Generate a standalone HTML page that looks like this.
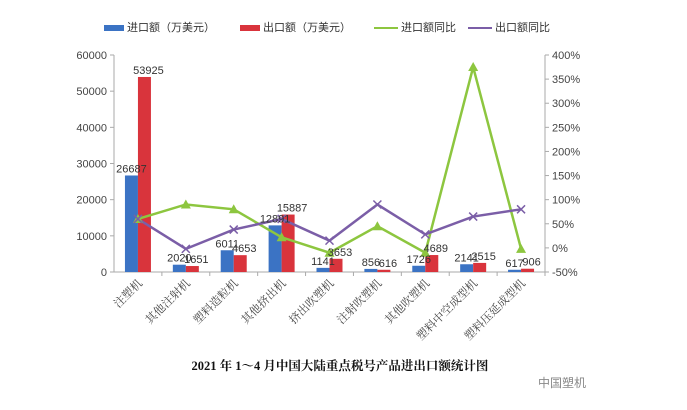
<!DOCTYPE html>
<html><head><meta charset="utf-8"><style>
body{margin:0;background:#fff;width:687px;height:405px;overflow:hidden;font-family:"Liberation Sans","Noto Sans CJK SC",sans-serif}
</style></head><body>
<svg id="chart" width="687" height="405" xmlns="http://www.w3.org/2000/svg" font-family="Liberation Sans, Noto Sans CJK SC, sans-serif">
<g font-size="11" fill="#333">
<rect x="104" y="25" width="20" height="6" fill="#3b73c4"/>
<text x="127" y="31">进口额（万美元）</text>
<rect x="240" y="25" width="20" height="6" fill="#d9343c"/>
<text x="263" y="31">出口额（万美元）</text>
<line x1="374" y1="28" x2="398" y2="28" stroke="#8dc63f" stroke-width="2"/>
<text x="401" y="31">进口额同比</text>
<line x1="468" y1="28" x2="492" y2="28" stroke="#7b5ea7" stroke-width="2"/>
<text x="495" y="31">出口额同比</text>
</g>
<g id="axes"></g>
<g id="marks"></g>
<text x="340" y="370" text-anchor="middle" font-size="12.5" font-weight="bold" fill="#111" font-family="Liberation Serif, Noto Serif CJK SC, serif">2021 年 1～4 月中国大陆重点税号产品进出口额统计图</text>
<text x="538" y="387" font-size="12" fill="#888">中国塑机</text>
</svg>
<script>
const categories=["注塑机","其他注射机","塑料造粒机","其他挤出机","挤出吹塑机","注射吹塑机","其他吹塑机","塑料中空成型机","塑料压延成型机"];
const importVals=[26687,2020,6011,12891,1141,856,1726,2141,617];
const exportVals=[53925,1651,4653,15887,3653,616,4689,2515,906];
const importYoY=[60,90,80,22,-10,45,-10,375,-2];
const exportYoY=[60,-2,38,60,15,90,28,65,80];
const leftTicks=[0,10000,20000,30000,40000,50000,60000];
const rightTicks=[-50,0,50,100,150,200,250,300,350,400];

const NS="http://www.w3.org/2000/svg";
const x0=114,x1=545,yTop=55,yBot=272;
const cw=(x1-x0)/categories.length;
const yL=v=>yBot-(v/60000)*(yBot-yTop);
const yR=v=>yBot-((v+50)/450)*(yBot-yTop);
const cx=i=>x0+cw*(i+0.5);
function mk(tag,attrs,parent){const e=document.createElementNS(NS,tag);for(const k in attrs)e.setAttribute(k,attrs[k]);parent.appendChild(e);return e;}
const ax=document.getElementById('axes'),mg=document.getElementById('marks');
let l=mk('line',{x1:x0,y1:yTop,x2:x0,y2:yBot,stroke:'#aaa'},ax);


l=mk('line',{x1:x1,y1:yTop,x2:x1,y2:yBot,stroke:'#aaa'},ax);


l=mk('line',{x1:x0,y1:yBot,x2:x1,y2:yBot,stroke:'#aaa'},ax);


leftTicks.forEach(v=>{const y=yL(v);mk('line',{x1:x0-4,y1:y,x2:x0,y2:y,stroke:'#aaa'},ax);
const t=mk('text',{x:x0-7,y:y+4,'text-anchor':'end','font-size':11,fill:'#444'},ax);t.textContent=v;

});
rightTicks.forEach(v=>{const y=yR(v);mk('line',{x1:x1,y1:y,x2:x1+4,y2:y,stroke:'#aaa'},ax);
const t=mk('text',{x:x1+7,y:y+4,'font-size':11,fill:'#444'},ax);t.textContent=v+'%';

});
categories.forEach((c,i)=>{mk('line',{x1:x0+cw*(i+1),y1:yBot,x2:x0+cw*(i+1),y2:yBot+4,stroke:'#aaa'},ax);
const t=mk('text',{x:0,y:0,'text-anchor':'end','font-size':11.5,fill:'#444',transform:`translate(${cx(i)+5},${yBot+12}) rotate(-45)`,'font-family':'Liberation Serif, Noto Serif CJK SC, serif'},ax);t.textContent=c;

});
const bw=13;
categories.forEach((c,i)=>{
 let r=mk('rect',{x:cx(i)-bw,y:yL(importVals[i]),width:bw,height:yBot-yL(importVals[i]),fill:'#3b73c4'},mg);
 
 
 r=mk('rect',{x:cx(i),y:yL(exportVals[i]),width:bw,height:yBot-yL(exportVals[i]),fill:'#d9343c'},mg);
 
 
});
function line(vals,color,name){const p=mk('polyline',{points:vals.map((v,i)=>cx(i)+','+yR(v)).join(' '),fill:'none',stroke:color,'stroke-width':2.5},mg);

}
line(importYoY,'#8dc63f','import-yoy-line');
line(exportYoY,'#7b5ea7','export-yoy-line');
importYoY.forEach((v,i)=>{const x=cx(i),y=yR(v);const m=mk('polygon',{points:`${x},${y-5} ${x-5},${y+4} ${x+5},${y+4}`,fill:'#8dc63f'},mg);

});
exportYoY.forEach((v,i)=>{const x=cx(i),y=yR(v);const m=mk('path',{d:`M${x-4},${y-4}L${x+4},${y+4}M${x-4},${y+4}L${x+4},${y-4}`,stroke:'#7b5ea7','stroke-width':1.5},mg);

});
categories.forEach((c,i)=>{
 let t=mk('text',{x:cx(i)-bw/2,y:yL(importVals[i])-3,'text-anchor':'middle','font-size':11,fill:'#333'},mg);t.textContent=importVals[i];
 
 
 t=mk('text',{x:cx(i)+bw/2+4,y:yL(exportVals[i])-3,'text-anchor':'middle','font-size':11,fill:'#333'},mg);t.textContent=exportVals[i];
 
 
});
</script>
</body></html>
